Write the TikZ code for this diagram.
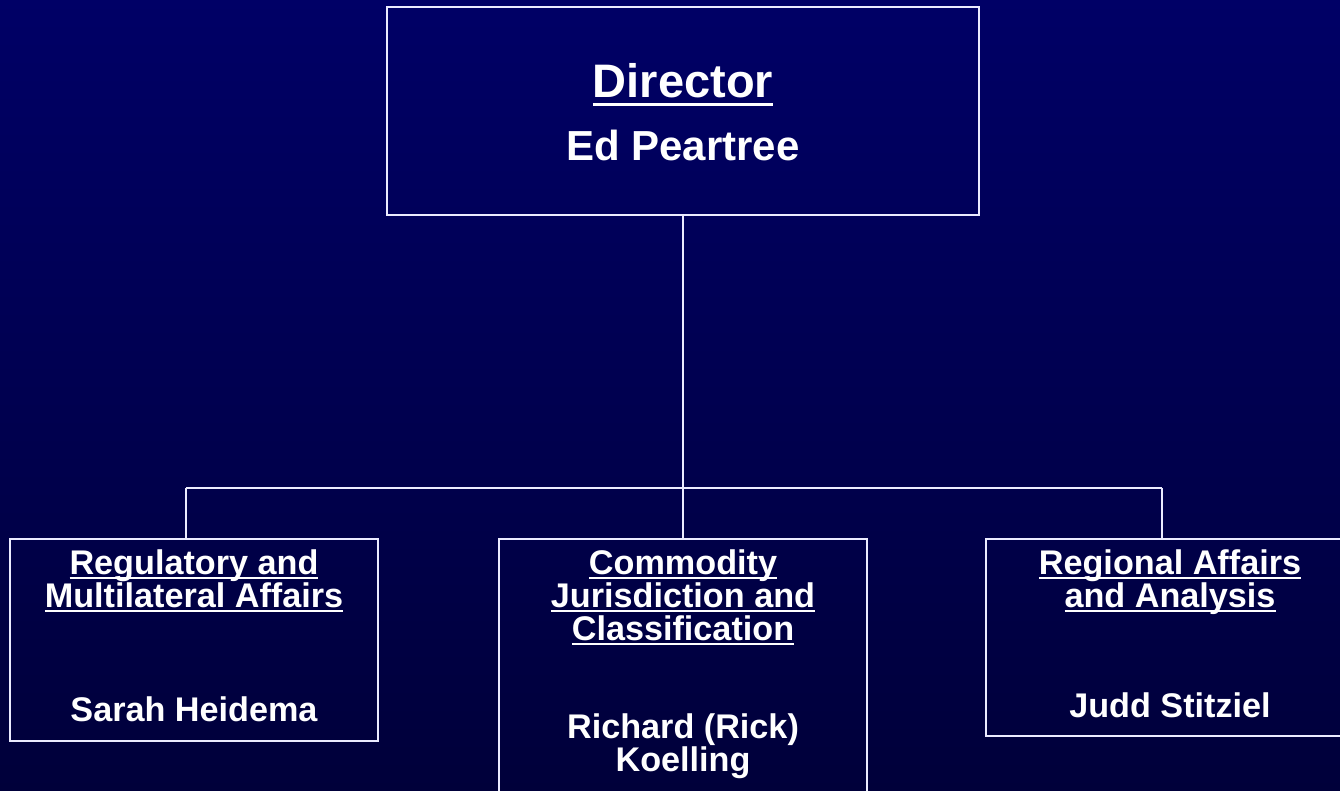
\documentclass[tikz,border=0pt]{standalone}
\usepackage{fontspec}
\setmainfont{Liberation Sans}
\newcommand\ulx[3]{\setbox0\hbox{#3}\rlap{\rule[-#1]{\wd0}{#2}}\box0}
\begin{document}
\begin{tikzpicture}[x=1pt,y=-1pt,
  box/.style={draw=white!92!blue, line width=1.6pt, rectangle, inner sep=0pt},
  conn/.style={draw=white!92!blue, line width=1.5pt},
  big/.style={text=white, font=\fontsize{47}{50}\selectfont\bfseries, anchor=base, inner sep=0pt},
  mid/.style={text=white, font=\fontsize{42}{46}\selectfont\bfseries, anchor=base, inner sep=0pt},
  sm/.style={text=white, font=\fontsize{34.2}{34}\selectfont\bfseries, anchor=base, inner sep=0pt}]
\useasboundingbox (0,0) rectangle (1340,791);
\clip (0,0) rectangle (1340,791);
\shade[top color={rgb,255:red,0;green,0;blue,102}, bottom color={rgb,255:red,0;green,0;blue,58}] (0,0) rectangle (1340,791);
% boxes
\node[box, minimum width=592pt, minimum height=208pt] (dir) at (683,111) {};
\node[box, minimum width=368pt, minimum height=202pt] (reg) at (194,640) {};
\node[box, minimum width=368pt, minimum height=262pt] (com) at (683,670) {};
\node[box, minimum width=364pt, minimum height=197pt] (ra) at (1168,637.5) {};
% texts
\node[big] (t1) at (683,98) {\ulx{8pt}{3pt}{Director}};
\node[mid] (t2) at (683,161) {Ed Peartree};
\node[sm] (r1) at (194,574) {\ulx{5pt}{2.2pt}{Regulatory and}};
\node[sm] (r2) at (194,607) {\ulx{5pt}{2.2pt}{Multilateral Affairs}};
\node[sm] (r3) at (194,721) {Sarah Heidema};
\node[sm] (c1) at (683,574) {\ulx{5pt}{2.2pt}{Commodity}};
\node[sm] (c2) at (683,607) {\ulx{5pt}{2.2pt}{Jurisdiction and}};
\node[sm] (c3) at (683,640) {\ulx{5pt}{2.2pt}{Classification}};
\node[sm] (c4) at (683,738) {Richard (Rick)};
\node[sm] (c5) at (683,771) {Koelling};
\node[sm] (g1) at (1170,574) {\ulx{5pt}{2.2pt}{Regional Affairs}};
\node[sm] (g2) at (1170,607) {\ulx{5pt}{2.2pt}{and Analysis}};
\node[sm] (g3) at (1170,717) {Judd Stitziel};
% connectors
\coordinate (jl) at (186,488);
\coordinate (jr) at (1162,488);
\draw[conn] (dir.south) -- (com.north);
\draw[conn] (jl) -- (jr);
\draw[conn] (jl) -- (jl |- reg.north);
\draw[conn] (jr) -- (jr |- ra.north);
\end{tikzpicture}
\end{document}
